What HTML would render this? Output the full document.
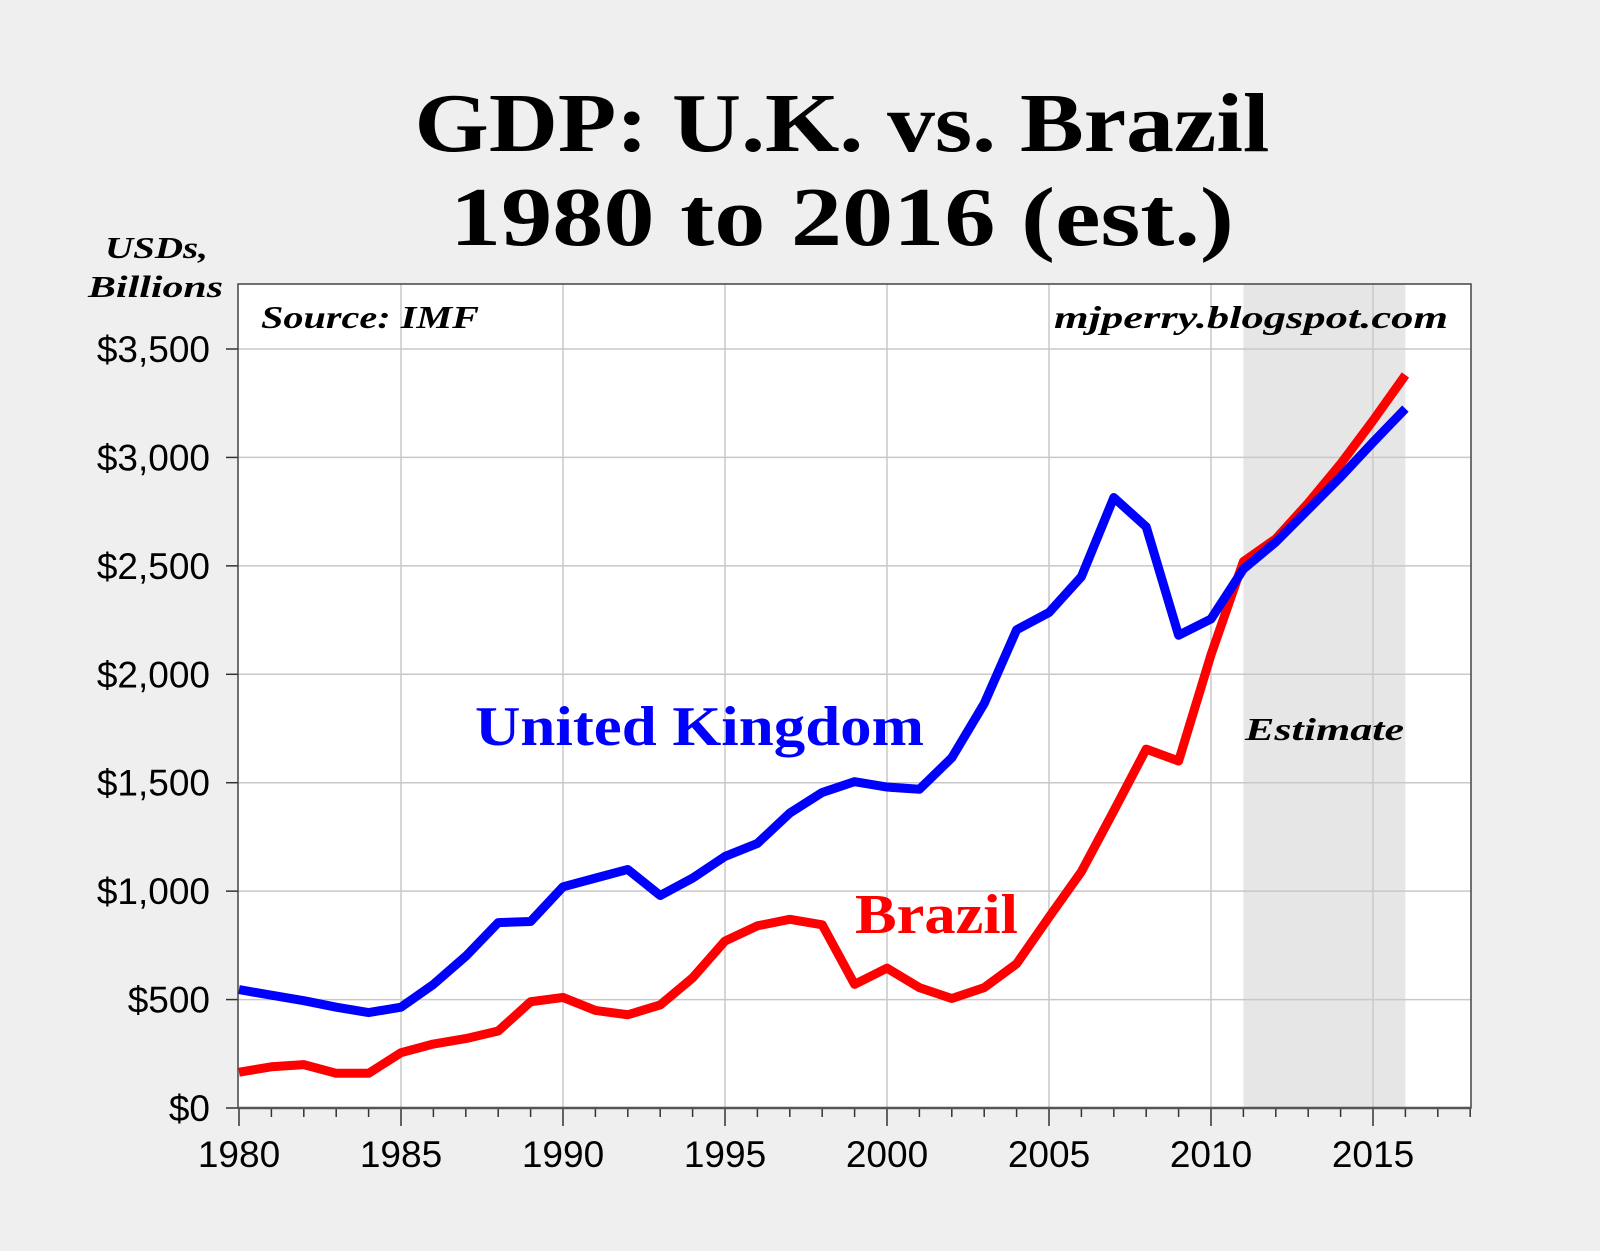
<!DOCTYPE html>
<html><head><meta charset="utf-8"><style>
body{margin:0;background:#efefef;}
svg{display:block;}
</style></head><body>
<svg id="c" width="1600" height="1251" xmlns="http://www.w3.org/2000/svg">
<rect x="0" y="0" width="1600" height="1251" fill="#efefef"/>
<text x="842" y="151" text-anchor="middle" textLength="855" lengthAdjust="spacingAndGlyphs" font-family="Liberation Serif, serif" font-weight="bold" font-size="84">GDP: U.K. vs. Brazil</text>
<text x="842" y="245" text-anchor="middle" textLength="784" lengthAdjust="spacingAndGlyphs" font-family="Liberation Serif, serif" font-weight="bold" font-size="84">1980 to 2016 (est.)</text>
<text x="208" y="258" text-anchor="end" textLength="103" lengthAdjust="spacingAndGlyphs" font-family="Liberation Serif, serif" font-weight="bold" font-style="italic" font-size="31">USDs,</text>
<text x="223" y="297" text-anchor="end" textLength="135" lengthAdjust="spacingAndGlyphs" font-family="Liberation Serif, serif" font-weight="bold" font-style="italic" font-size="31">Billions</text>
<g id="plot"></g>
</svg>
<script>
const years=[1980,1981,1982,1983,1984,1985,1986,1987,1988,1989,1990,1991,1992,1993,1994,1995,1996,1997,1998,1999,2000,2001,2002,2003,2004,2005,2006,2007,2008,2009,2010,2011,2012,2013,2014,2015,2016];
const ukValues=[546,520,495,465,440,465,570,700,855,860,1020,1060,1100,980,1060,1160,1220,1360,1455,1505,1480,1470,1615,1865,2205,2285,2450,2815,2680,2180,2255,2485,2610,2760,2910,3070,3225];
const brazilValues=[165,190,200,160,160,255,295,320,355,490,510,450,430,475,600,770,840,870,845,570,645,555,505,555,665,880,1090,1370,1655,1600,2090,2520,2625,2790,2970,3170,3380];
const yTicks=[0,500,1000,1500,2000,2500,3000,3500];
const yTickLabels=["$0","$500","$1,000","$1,500","$2,000","$2,500","$3,000","$3,500"];
const xTickLabels=[1980,1985,1990,1995,2000,2005,2010,2015];
const estimateRange=[2011,2016];

const L=238,R=1471,T=284,B=1108;
const X0=1980,X1=2018;
const xPx=(1373-239)/35;
const x=v=>239+(v-X0)*xPx;
const y=v=>1108-v*(1108-349)/3500;
const NS="http://www.w3.org/2000/svg";
const g=document.getElementById('plot');
function mk(t,a,p){const e=document.createElementNS(NS,t);for(const k in a)e.setAttribute(k,a[k]);(p||g).appendChild(e);return e;}

const bg=mk('rect',{x:L,y:T,width:R-L,height:B-T,fill:'#fff'});


const sh=mk('rect',{x:x(estimateRange[0]),y:T,width:x(estimateRange[1])-x(estimateRange[0]),height:B-T,fill:'#e6e6e6'});



yTicks.forEach((v,i)=>{
  if(v>0){const gl=mk('line',{x1:L,x2:R,y1:y(v),y2:y(v),stroke:'#c8c8c8','stroke-width':1.5});
  
  }
  mk('line',{x1:L-12,x2:L,y1:y(v),y2:y(v),stroke:'#333','stroke-width':1.5});
  const t=mk('text',{x:210,y:y(v)+13,'text-anchor':'end','font-family':'Liberation Sans, sans-serif','font-size':37});
  t.textContent=yTickLabels[i];
  
  
});
xTickLabels.forEach(v=>{
  if(v>X0){const gl=mk('line',{x1:x(v),x2:x(v),y1:T,y2:B,stroke:'#c8c8c8','stroke-width':1.5});
  
  }
  const t=mk('text',{x:x(v),y:1167,'text-anchor':'middle','font-family':'Liberation Sans, sans-serif','font-size':37});
  t.textContent=v;
  
  
});
for(let yr=X0;yr<=X1;yr++){
  const major=(yr%5===0);
  mk('line',{x1:x(yr),x2:x(yr),y1:B,y2:B+(major?18:9),stroke:'#333','stroke-width':1.5});
}
const fr=mk('rect',{x:L,y:T,width:R-L,height:B-T,fill:'none',stroke:'#444','stroke-width':1.5});


mk('line',{x1:L,x2:R,y1:B,y2:B,stroke:'#555','stroke-width':2.5});

function series(vals,color,name){
  const p=mk('polyline',{points:vals.map((v,i)=>x(years[i])+','+y(v)).join(' '),fill:'none',stroke:color,'stroke-width':9,'stroke-linejoin':'round'});
  
  
}
series(brazilValues,'#ff0000','brazil-line');
series(ukValues,'#0000ff','uk-line');

function label(txt,xx,yy,size,color,anchor,italic,len,name){
  const t=mk('text',{x:xx,y:yy,'text-anchor':anchor,'font-family':'Liberation Serif, serif','font-weight':'bold','font-size':size,fill:color,textLength:len,lengthAdjust:'spacingAndGlyphs'});
  if(italic)t.setAttribute('font-style','italic');
  t.textContent=txt;
  
  
}
label('Source: IMF',261,328,32,'#000','start',true,218,'source-note');
label('mjperry.blogspot.com',1448,328,32,'#000','end',true,394,'watermark');
label('United Kingdom',475,745,56,'#0000ff','start',false,449,'uk-label');
label('Brazil',855,933,56,'#ff0000','start',false,163,'brazil-label');
label('Estimate',1245,740,32,'#000','start',true,159,'estimate-label');
</script>
</body></html>
